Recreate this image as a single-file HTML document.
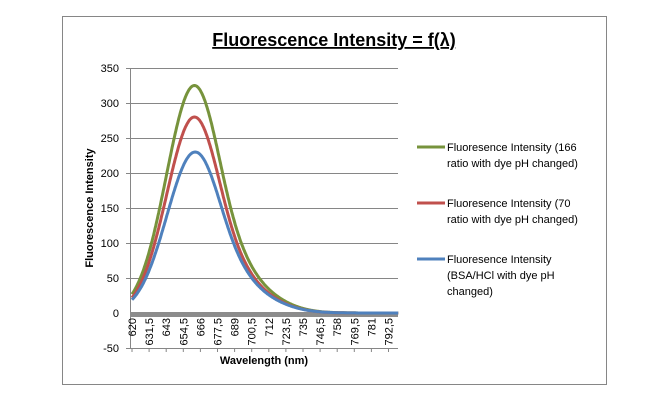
<!DOCTYPE html>
<html><head><meta charset="utf-8"><style>
body{margin:0;background:#fff;}
svg{display:block;font-family:"Liberation Sans",sans-serif;}
</style></head><body>
<svg id="s" width="668" height="401" xmlns="http://www.w3.org/2000/svg">
<rect x="0" y="0" width="668" height="401" fill="#fff"/>
<rect x="62.5" y="16.5" width="544" height="368" fill="#fff" stroke="#868686" stroke-width="1"/>
<text x="334" y="46" text-anchor="middle" font-size="18" font-weight="bold" text-decoration="underline" fill="#000">Fluorescence Intensity = f(λ)</text>
<g id="grid" stroke="#868686" stroke-width="1"></g>
<rect x="130" y="312" width="268" height="5" fill="#8c8c8c"/>
<g id="ylab" font-size="11" fill="#000" text-anchor="end"></g>
<g id="xlab" font-size="11" fill="#000"></g>
<text transform="translate(93,208) rotate(-90)" text-anchor="middle" font-size="11" font-weight="bold">Fluorescence Intensity</text>
<text x="264" y="364" text-anchor="middle" font-size="11" font-weight="bold">Wavelength (nm)</text>
<g id="curves" fill="none" stroke-width="3" stroke-linejoin="round"></g>
<g font-size="11" fill="#000">
<line x1="417" y1="147" x2="445" y2="147" stroke="#77933C" stroke-width="3"/>
<text x="447" y="151">Fluoresence Intensity (166</text>
<text x="447" y="167">ratio with dye pH changed)</text>
<line x1="417" y1="203" x2="445" y2="203" stroke="#C0504D" stroke-width="3"/>
<text x="447" y="207">Fluoresence Intensity (70</text>
<text x="447" y="223">ratio with dye pH changed)</text>
<line x1="417" y1="259" x2="445" y2="259" stroke="#4F81BD" stroke-width="3"/>
<text x="447" y="263">Fluoresence Intensity</text>
<text x="447" y="279">(BSA/HCl with dye pH</text>
<text x="447" y="295">changed)</text>
</g>
</svg>
<script>
var NS="http://www.w3.org/2000/svg";
function el(p,t,a,txt){var e=document.createElementNS(NS,t);for(var k in a)e.setAttribute(k,a[k]);if(txt!==undefined)e.textContent=txt;document.getElementById(p).appendChild(e);return e;}
function Y(v){return 313-v*0.7;}
for(var i=0;i<=8;i++){var v=-50+i*50;var y=Y(v);
 if(v!==0)el("grid","line",{x1:126,y1:y+0.5,x2:398,y2:y+0.5});
 el("ylab","text",{x:119,y:y+4},String(v));}
el("grid","line",{x1:130.5,y1:68,x2:130.5,y2:348});
var ppn=17.1/11.5;
function X(nm){return 132+(nm-620)*ppn;}
for(var i=0;i<16;i++){var nm=620+i*11.5;var x=X(nm);
 el("grid","line",{x1:x,y1:348,x2:x,y2:352});
 var s=String(nm).replace(".",",");
 el("xlab","text",{transform:"translate("+(x+4)+",318) rotate(-90)","text-anchor":"end"},s);}
function softplus(z,k){return k*Math.log(1+Math.exp(z/k));}
function shape(d,s){
 if(d<=0)return Math.exp(-d*d/(2*s*s));
 var g=0.2*softplus(d-24,6);
 g=8-softplus(8-g,2);
 var sr=s+g;
 return Math.exp(-d*d/(2*sr*sr));}
var series=[["#4F81BD",230,662.5,19],["#C0504D",280,662,18.6],["#77933C",325,662,18.8]];
[2,1,0].forEach(function(k){var sr=series[k];var d="";
 for(var nm=620;nm<=799;nm+=0.5){var v=sr[1]*shape(nm-sr[2],sr[3]);d+=(nm===620?"M":"L")+X(nm).toFixed(1)+","+Y(v).toFixed(1);}
 el("curves","path",{d:d,stroke:sr[0]});});
</script>
</body></html>
